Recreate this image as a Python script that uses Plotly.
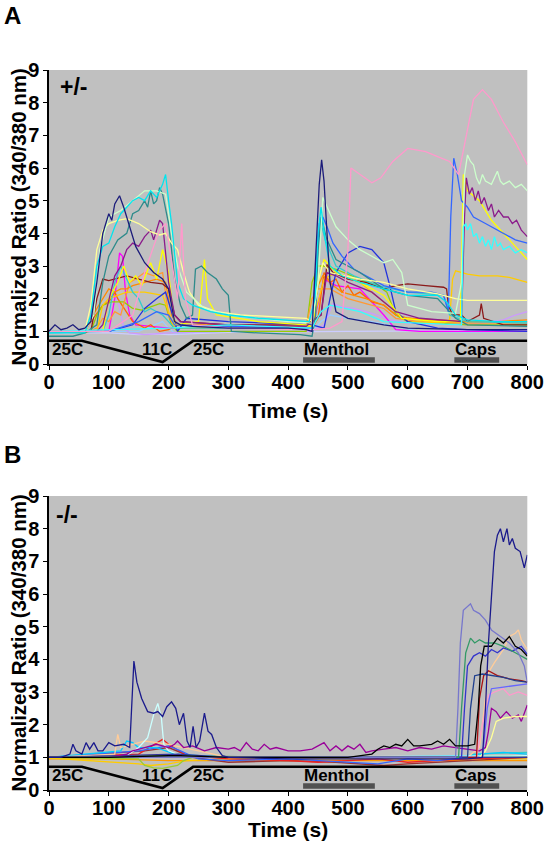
import plotly.graph_objects as go

# ---------------- Panel A (+/-) traces: (time s, normalized ratio) ----------------
a_navy = [(0,1.0),(10,1.2),(20,1.05),(30,1.1),(40,1.2),(50,1.05),(60,1.1),(70,1.3),(80,2.5),(90,4.0),(100,4.6),(105,4.4),(110,4.9),(118,5.15),(125,4.8),(135,4.2),(145,3.6),(160,3.1),(175,2.8),(190,2.6),(200,2.3),(210,1.3),(220,1.2),(240,1.15),(300,1.1),(400,1.1),(430,1.05),(440,1.0),(447,3.5),(452,5.5),(456,6.25),(460,5.6),(465,4.0),(470,2.5),(480,1.6),(500,1.4),(530,1.3),(560,1.2),(600,1.1),(700,1.05),(800,1.05)]
a_cyan = [(0,0.95),(60,0.95),(70,1.5),(80,3.0),(90,3.6),(100,3.7),(110,4.2),(120,4.6),(130,4.8),(140,5.0),(150,5.1),(160,5.0),(170,5.3),(180,5.1),(190,5.5),(195,5.8),(200,5.0),(205,4.3),(210,3.4),(215,2.5),(225,2.0),(240,1.8),(270,1.6),(300,1.5),(350,1.4),(400,1.35),(435,1.3),(445,2.0),(450,4.0),(455,4.8),(462,3.8),(470,3.0),(490,2.7),(520,2.5),(560,2.3),(600,2.1),(650,2.1),(665,1.9),(680,1.5),(700,1.35),(750,1.3),(800,1.3)]
a_cyan2 = [(0,1.0),(100,1.05),(200,1.1),(300,1.2),(440,1.1),(455,1.6),(470,1.8),(520,1.6),(560,1.3),(690,1.2),(693,4.2),(697,4.3),(700,4.1),(705,4.3),(710,3.9),(715,4.0),(720,3.7),(725,3.9),(730,3.6),(735,3.8),(740,3.5),(745,3.9),(750,3.6),(755,3.7),(760,3.5),(770,3.6),(780,3.4),(790,3.5),(800,3.4)]
a_teal = [(0,0.85),(40,0.85),(60,0.95),(80,1.2),(90,2.5),(100,3.3),(115,3.8),(130,4.0),(140,4.6),(150,4.7),(160,5.0),(165,4.8),(170,5.3),(175,4.9),(180,5.0),(185,5.4),(190,5.2),(200,4.3),(205,3.5),(210,2.6),(220,1.8),(230,1.4),(240,1.5),(245,2.9),(255,3.0),(265,2.8),(280,2.6),(290,2.3),(300,2.1),(305,1.0),(350,0.95),(420,0.9),(440,0.85),(446,1.5),(450,3.5),(455,4.5),(465,3.8),(480,3.2),(520,2.8),(560,2.3),(600,2.1),(650,2.0),(680,1.4),(700,1.2),(800,1.15)]
a_paleyellow = [(0,1.0),(60,1.0),(70,1.8),(80,3.5),(90,4.1),(100,4.3),(115,4.4),(130,4.45),(150,4.3),(170,4.05),(185,3.95),(195,4.0),(205,3.7),(215,3.5),(225,2.8),(235,2.2),(250,1.8),(280,1.6),(320,1.5),(380,1.45),(430,1.4),(440,1.3),(450,2.5),(458,3.1),(470,2.8),(520,2.6),(560,2.5),(600,2.3),(650,2.15),(680,2.0),(700,1.95),(750,1.95),(800,1.95)]
a_palegreen = [(0,1.0),(60,1.0),(75,1.5),(85,3.5),(100,4.5),(120,4.7),(140,5.0),(160,5.3),(180,5.3),(195,5.2),(205,4.0),(215,3.0),(230,2.2),(260,1.7),(300,1.5),(400,1.3),(440,1.25),(450,2.5),(458,5.1),(465,4.8),(480,4.2),(500,3.8),(520,3.5),(540,3.3),(560,3.1),(575,3.2),(590,2.8),(600,1.8),(640,1.6),(680,1.55),(690,2.5),(695,5.8),(700,6.4),(705,6.2),(710,6.1),(715,5.7),(720,5.5),(725,5.8),(730,5.6),(740,5.5),(750,5.9),(755,5.6),(760,5.5),(770,5.6),(780,5.4),(790,5.5),(800,5.3)]
a_purple = [(0,1.0),(80,1.0),(90,1.2),(100,2.0),(110,2.7),(120,3.0),(130,3.5),(140,3.7),(150,3.6),(160,3.9),(170,4.1),(175,3.8),(185,4.4),(190,4.3),(195,3.5),(200,2.5),(210,1.5),(220,1.3),(300,1.2),(430,1.15),(455,1.5),(465,2.8),(480,2.7),(500,2.5),(540,2.2),(580,1.6),(620,1.4),(680,1.3),(690,1.3),(695,4.5),(698,5.7),(703,5.2),(708,5.4),(713,5.0),(718,5.3),(723,4.9),(728,5.1),(735,4.7),(740,4.9),(745,4.5),(752,4.7),(760,4.5),(768,4.5),(775,4.3),(782,4.4),(790,4.1),(800,3.9)]
a_pink = [(0,1.0),(100,1.0),(140,1.5),(160,2.8),(175,3.6),(185,4.1),(195,4.3),(205,3.2),(215,2.0),(222,4.3),(228,2.0),(240,1.2),(300,1.1),(440,1.05),(470,1.1),(490,1.3),(500,3.5),(505,6.0),(520,5.8),(540,5.55),(555,5.7),(575,6.2),(600,6.6),(630,6.5),(650,6.35),(670,6.2),(685,5.8),(700,7.2),(710,8.1),(725,8.4),(740,8.1),(760,7.4),(780,6.8),(800,6.1)]
a_royal = [(0,1.0),(100,1.0),(150,1.3),(180,1.6),(200,1.5),(210,1.2),(300,1.15),(440,1.1),(447,3.0),(452,4.3),(458,4.5),(465,4.2),(475,3.7),(490,3.3),(510,2.9),(540,2.6),(560,2.4),(600,2.2),(640,2.2),(660,2.1),(668,1.6),(672,4.5),(677,6.3),(683,5.8),(690,5.0),(700,4.8),(710,4.5),(730,4.3),(760,4.0),(780,3.8),(800,3.7)]
a_blue = [(0,1.0),(100,1.0),(140,1.2),(160,1.7),(180,2.0),(195,2.2),(205,1.6),(215,1.0),(230,1.4),(300,1.3),(440,1.2),(460,1.1),(470,2.0),(480,2.8),(500,3.4),(520,3.6),(540,3.5),(560,3.1),(570,2.4),(580,1.6),(600,1.3),(650,1.1),(700,1.05),(800,1.0)]
a_yellow = [(0,1.0),(90,1.0),(100,2.0),(115,2.5),(125,3.0),(135,2.5),(145,2.7),(155,2.4),(170,3.1),(180,2.6),(190,3.5),(200,2.8),(210,1.2),(250,1.3),(260,3.2),(265,2.0),(280,1.5),(350,1.3),(430,1.2),(440,1.15),(450,2.5),(460,3.2),(480,2.8),(520,2.5),(560,2.1),(590,1.4),(650,1.3),(688,1.3),(690,3.0),(693,5.8),(700,5.3),(720,5.0),(740,4.4),(760,4.0),(780,3.6),(800,3.2)]
a_gold = [(0,1.0),(80,1.0),(90,1.8),(100,2.0),(130,2.2),(160,2.2),(190,2.1),(210,1.1),(300,1.1),(430,1.1),(440,1.2),(460,2.6),(480,2.8),(520,2.5),(560,1.9),(600,1.3),(660,1.25),(670,1.35),(675,2.6),(680,2.85),(700,2.75),(720,2.7),(750,2.7),(770,2.65),(800,2.5)]
a_darkred = [(0,1.0),(70,1.0),(80,2.0),(90,2.6),(100,2.55),(110,2.6),(130,2.7),(150,2.6),(170,2.5),(190,2.45),(200,2.3),(210,1.5),(220,1.3),(300,1.2),(430,1.2),(455,1.5),(465,3.05),(475,2.8),(500,2.6),(530,2.5),(560,2.3),(580,2.4),(600,2.45),(630,2.4),(660,2.35),(665,2.3),(668,1.8),(675,1.5),(690,1.5),(700,1.3),(720,1.5),(723,1.85),(727,1.4),(760,1.2),(800,1.2)]
a_orange = [(0,1.0),(60,1.0),(80,1.7),(90,2.0),(100,2.3),(110,2.2),(120,2.3),(130,2.3),(140,2.4),(160,2.5),(180,2.6),(195,2.5),(205,1.5),(215,1.2),(300,1.2),(430,1.15),(440,1.3),(450,2.4),(458,2.7),(465,2.6),(475,2.4),(490,2.2),(510,2.1),(530,2.0),(560,1.8),(580,1.5),(600,1.4),(650,1.3),(700,1.3),(750,1.3),(800,1.35)]
a_orange2 = [(0,1.0),(60,0.95),(80,1.1),(90,1.4),(100,1.3),(110,1.6),(120,1.5),(135,2.5),(145,2.6),(160,2.8),(175,2.7),(190,2.8),(200,1.5),(210,1.1),(300,1.15),(430,1.15),(440,2.0),(450,2.3),(470,2.3),(500,2.0),(530,1.85),(560,1.7),(580,1.4),(620,1.3),(700,1.25),(800,1.25)]
a_orange3 = [(0,1.0),(60,1.0),(70,1.3),(90,1.8),(100,1.9),(110,2.2),(115,2.0),(130,1.6),(140,1.3),(150,1.2),(160,1.1),(170,1.2),(185,1.0),(200,1.05),(215,1.2),(260,1.15),(400,1.1),(440,1.1),(450,1.4),(460,2.8),(470,2.5),(480,2.6),(490,2.2),(500,2.4),(510,2.1),(520,2.2),(540,1.9),(560,1.8),(580,1.5),(600,1.4),(700,1.3),(800,1.3)]
a_ygreen = [(0,1.0),(70,1.0),(80,1.5),(90,1.8),(105,1.9),(125,1.9),(140,1.7),(155,1.65),(170,1.75),(185,1.85),(195,1.8),(205,1.2),(215,1.0),(300,1.0),(430,1.0),(440,2.5),(450,3.0),(460,3.0),(480,2.9),(520,2.6),(550,2.4),(565,2.2),(580,1.5),(600,1.3),(700,1.2),(800,1.2)]
a_lilac = [(0,1.0),(90,1.0),(100,1.5),(110,2.2),(117,1.8),(125,1.1),(135,0.95),(160,0.9),(200,0.95),(300,1.0),(440,1.0),(460,1.2),(475,1.85),(490,1.75),(510,1.7),(540,1.55),(570,1.35),(600,1.25),(700,1.2),(760,1.35),(780,1.5),(800,1.6)]
a_lightblue = [(0,1.0),(100,1.0),(150,1.0),(190,1.3),(200,1.1),(210,0.95),(300,1.0),(440,1.0),(455,1.3),(470,1.5),(500,1.4),(540,1.3),(580,1.15),(620,1.0),(700,0.98),(800,1.0)]
a_lavender = [(0,0.95),(100,0.95),(150,0.9),(180,0.92),(200,0.9),(300,0.97),(500,1.0),(600,1.0),(700,1.02),(800,1.05)]
a_magenta = [(0,1.0),(100,1.0),(110,2.0),(118,3.4),(123,3.3),(128,2.2),(135,1.5),(145,1.2),(200,1.1),(300,1.1),(440,1.1),(460,2.6),(480,2.4),(520,2.3),(560,1.5),(580,1.05),(620,1.0),(700,1.0),(800,1.0)]
a_turq = [(0,0.95),(90,1.0),(100,1.5),(110,2.5),(120,3.0),(130,2.6),(140,2.2),(150,2.0),(160,1.6),(170,1.7),(190,1.5),(210,1.1),(300,1.1),(440,1.1),(450,3.5),(455,4.3),(462,3.8),(480,3.0),(510,2.7),(550,2.4),(600,2.2),(660,2.1),(670,1.5),(700,1.3),(800,1.25)]

# ---------------- Panel B (-/-) traces ----------------
b_navy = [(0,1.0),(20,1.0),(35,1.1),(40,1.4),(45,1.2),(55,1.1),(62,1.45),(68,1.25),(75,1.45),(82,1.2),(90,1.2),(100,1.45),(110,1.35),(125,1.4),(135,1.3),(140,3.1),(142,3.95),(147,3.3),(155,2.8),(165,2.4),(175,2.35),(182,2.4),(190,2.25),(197,2.55),(205,2.7),(212,2.5),(218,2.0),(225,2.35),(231,1.5),(236,1.3),(241,1.95),(246,1.3),(252,1.5),(260,2.35),(266,1.8),(272,1.7),(280,1.3),(290,1.05),(300,1.0),(400,0.95),(500,0.95),(600,0.95),(700,0.95),(725,1.0),(730,2.5),(735,4.5),(740,6.0),(745,7.3),(750,7.8),(755,8.0),(760,7.6),(766,8.0),(770,7.5),(775,7.7),(780,7.4),(788,7.3),(795,6.8),(800,7.2)]
b_slate = [(0,1.0),(680,1.0),(684,2.5),(688,4.5),(693,5.5),(700,5.6),(705,5.7),(710,5.5),(720,5.4),(730,5.2),(740,4.9),(755,4.7),(770,4.5),(785,4.2),(795,3.8),(800,3.3)]
b_green = [(0,1.0),(685,1.0),(690,2.5),(697,4.2),(705,4.65),(712,4.5),(720,4.6),(730,4.5),(745,4.5),(760,4.4),(780,4.2),(800,4.0)]
b_black = [(0,1.0),(100,1.0),(200,1.05),(220,1.05),(300,1.0),(400,1.0),(500,1.0),(540,1.1),(550,1.25),(560,1.35),(570,1.3),(580,1.4),(590,1.35),(600,1.55),(610,1.35),(620,1.35),(640,1.4),(650,1.5),(660,1.4),(670,1.55),(680,1.35),(700,1.35),(712,1.4),(718,2.5),(722,3.8),(728,4.4),(740,4.4),(750,4.65),(760,4.5),(770,4.7),(780,4.4),(790,4.3),(800,4.1)]
b_blue = [(0,1.0),(690,1.0),(695,2.5),(700,3.8),(710,4.1),(720,4.2),(730,4.1),(740,4.3),(750,4.2),(760,4.35),(775,4.25),(790,4.4),(800,4.15)]
b_darkblue = [(0,1.0),(700,1.0),(705,2.5),(712,3.5),(725,3.55),(740,3.5),(760,3.45),(780,3.35),(800,3.3)]
b_darkred = [(0,1.0),(715,1.0),(720,2.8),(727,3.5),(735,3.65),(750,3.5),(770,3.4),(790,3.35),(800,3.3)]
b_peach = [(0,1.0),(110,1.1),(115,1.7),(120,1.3),(140,1.4),(160,1.5),(200,1.4),(300,1.0),(700,1.0),(720,1.3),(728,2.5),(735,3.6),(745,3.9),(760,4.3),(770,4.7),(780,4.8),(785,4.9),(790,4.6),(800,4.3)]
b_pink = [(0,1.0),(715,1.0),(725,2.0),(735,2.9),(745,3.0),(760,3.1),(770,2.9),(785,3.0),(800,2.9)]
b_medblue = [(0,1.0),(725,1.0),(733,2.5),(740,3.1),(760,3.15),(780,3.2),(800,3.25)]
b_purple = [(0,1.0),(100,1.0),(130,1.1),(140,1.2),(160,1.3),(180,1.4),(200,1.3),(210,1.4),(215,1.5),(225,1.3),(240,1.35),(260,1.2),(280,1.3),(300,1.25),(310,1.3),(320,1.2),(330,1.45),(340,1.25),(350,1.2),(360,1.4),(370,1.25),(380,1.3),(400,1.2),(420,1.2),(440,1.25),(460,1.45),(470,1.2),(480,1.35),(490,1.2),(500,1.35),(510,1.25),(520,1.4),(530,1.15),(540,1.2),(560,1.25),(580,1.3),(600,1.2),(620,1.3),(640,1.25),(660,1.35),(680,1.3),(700,1.25),(720,1.2),(730,1.3),(735,1.8),(740,2.5),(748,2.4),(755,2.2),(765,2.4),(775,2.2),(785,2.3),(790,2.1),(800,2.6)]
b_lightyellow = [(0,1.0),(720,1.0),(730,1.2),(740,1.6),(748,2.1),(760,2.2),(780,2.25),(800,2.25)]
b_palecyan = [(0,1.0),(130,1.05),(150,1.3),(165,1.6),(175,2.3),(182,2.65),(188,2.2),(192,1.4),(200,1.2),(220,1.05),(300,1.0),(800,1.05)]
b_ygreen = [(0,1.0),(150,0.95),(160,0.75),(175,0.68),(190,0.66),(205,0.7),(215,0.75),(225,0.9),(240,1.0),(800,1.0)]
b_cyan = [(0,1.0),(120,1.2),(130,1.5),(140,1.45),(150,1.3),(180,1.3),(210,1.1),(300,1.0),(500,1.0),(700,1.05),(720,1.1),(760,1.15),(800,1.1)]
b_orange = [(0,0.95),(100,0.95),(200,0.9),(300,0.9),(500,0.9),(700,0.9),(800,0.9)]
b_yellow = [(0,0.98),(150,0.8),(170,0.75),(200,0.8),(230,0.9),(300,0.95),(800,0.95)]
b_red = [(0,1.0),(150,1.1),(190,1.55),(200,1.4),(230,1.05),(300,0.95),(400,0.9),(450,0.85),(500,0.9),(550,0.95),(600,0.85),(650,0.9),(700,0.95),(800,1.0)]
b_maroon = [(0,1.0),(160,1.2),(200,1.3),(240,1.0),(300,0.85),(400,0.9),(480,0.85),(520,0.8),(560,0.75),(600,0.8),(700,0.9),(800,1.0)]
b_green2 = [(0,1.0),(200,1.05),(400,1.0),(600,1.0),(800,1.05)]
b_blue2 = [(0,1.0),(150,1.2),(200,1.35),(220,1.2),(250,0.95),(300,0.9),(400,0.95),(500,0.85),(550,0.8),(600,0.95),(650,0.9),(700,1.0),(800,1.0)]
b_indigo = [(0,1.0),(200,1.1),(215,1.1),(300,1.0),(800,1.0)]
b_teal = [(0,1.0),(700,1.0),(710,1.1),(800,1.15)]

# stimulus protocol (temperature ramp, drug bars)
protocol_t = [0, 55, 190, 241, 800]
protocol_v = [0.71, 0.71, 0.06, 0.71, 0.71]
menthol_span = [425, 545]
caps_span = [678, 753]
bar_level = 0.12
x_ticks = [0, 100, 200, 300, 400, 500, 600, 700, 800]
y_ticks = [0, 1, 2, 3, 4, 5, 6, 7, 8, 9]

A_SERIES = [
    (a_lavender, "#ccccff"), (a_lightblue, "#99ccff"), (a_lilac, "#cc99ff"), (a_magenta, "#ff00ff"),
    (a_orange3, "#ff6600"), (a_ygreen, "#99cc00"), (a_orange2, "#ff9933"), (a_orange, "#ff8c00"),
    (a_gold, "#ffcc00"), (a_darkred, "#8b1a1a"), (a_blue, "#2233dd"), (a_turq, "#33cccc"),
    (a_yellow, "#ffff00"), (a_purple, "#8b1c8b"), (a_royal, "#3366ff"), (a_teal, "#2e8b8b"),
    (a_paleyellow, "#ffff99"), (a_palegreen, "#ccffcc"), (a_cyan2, "#33ffff"), (a_cyan, "#00e5ee"),
    (a_pink, "#ff99cc"), (a_navy, "#1c1c7a"),
]
B_SERIES = [
    (b_orange, "#ff9900"), (b_yellow, "#ffcc00"), (b_ygreen, "#99cc33"), (b_maroon, "#993333"),
    (b_red, "#ee2222"), (b_green2, "#33aa33"), (b_blue2, "#3366ff"), (b_teal, "#33cccc"),
    (b_cyan, "#00ccff"), (b_peach, "#ffcc99"), (b_palecyan, "#ccffff"), (b_indigo, "#333399"),
    (b_purple, "#990099"), (b_lightyellow, "#ffff99"), (b_pink, "#ff99cc"), (b_medblue, "#6666ff"),
    (b_darkred, "#aa1111"), (b_darkblue, "#1f3f8f"), (b_blue, "#3333cc"), (b_green, "#339966"),
    (b_slate, "#7777cc"), (b_black, "#000000"), (b_navy, "#1a1a8c"),
]

fig = go.Figure()
FONT = "Liberation Sans, Arial, sans-serif"

def add_panel(series, xa, ya):
    for pts, col in series:
        fig.add_trace(go.Scatter(x=[p[0] for p in pts], y=[p[1] for p in pts], mode="lines",
                                 line=dict(color=col, width=1.3), xaxis=xa, yaxis=ya,
                                 showlegend=False, hoverinfo="skip"))
    fig.add_trace(go.Scatter(x=protocol_t, y=protocol_v, mode="lines", line=dict(color="black", width=2.6),
                             xaxis=xa, yaxis=ya, showlegend=False, hoverinfo="skip"))
    for span in (menthol_span, caps_span):
        fig.add_trace(go.Scatter(x=span, y=[bar_level, bar_level], mode="lines",
                                 line=dict(color="#505050", width=5.5), xaxis=xa, yaxis=ya,
                                 showlegend=False, hoverinfo="skip"))

add_panel(A_SERIES, "x", "y")
add_panel(B_SERIES, "x2", "y2")

X0, X1 = 49 / 548, 527.3 / 548
YA = [1 - 364 / 853, 1 - 70 / 853]
YB = [1 - 790 / 853, 1 - 496 / 853]

axis_common = dict(showline=True, linecolor="black", linewidth=1.5, ticks="outside", ticklen=4,
                   tickwidth=1.3, tickcolor="black", showgrid=False, zeroline=False, automargin=False,
                   tickfont=dict(family=FONT, size=20, color="black", weight="bold"))

fig.update_layout(
    width=548, height=853, margin=dict(l=0, r=0, t=0, b=0, pad=0, autoexpand=False),
    paper_bgcolor="white", plot_bgcolor="#c0c0c0",
    xaxis=dict(domain=[X0, X1], range=[0, 800], tickvals=x_ticks, anchor="y", ticklabelstandoff=-5, **axis_common),
    yaxis=dict(domain=YA, range=[0, 9], tickvals=y_ticks, anchor="x", **axis_common),
    xaxis2=dict(domain=[X0, X1], range=[0, 800], tickvals=x_ticks, anchor="y2", ticklabelstandoff=-5, **axis_common),
    yaxis2=dict(domain=YB, range=[0, 9], tickvals=y_ticks, anchor="x2", **axis_common),
)

ann = []
def txt(text, x, y, size, xref="paper", yref="paper", xanchor="center", angle=0):
    ann.append(dict(text=text, x=x, y=y, xref=xref, yref=yref, xanchor=xanchor, yanchor="middle",
                    showarrow=False, textangle=angle,
                    font=dict(family=FONT, size=size, color="black", weight="bold")))

# panel letters
txt("A", 2 / 548, 1 - 16 / 853, 24, xanchor="left")
txt("B", 2 / 548, 1 - 454 / 853, 24, xanchor="left")
# genotype labels
txt("+/-", 73 / 548, 1 - 87 / 853, 23)
txt("-/-", 67 / 548, 1 - 515 / 853, 23)
# axis titles
for ymid, xt_y in ((217, 410), (643, 829)):
    txt("Normalized Ratio (340/380 nm)", 17.5 / 548, 1 - ymid / 853, 20.5, angle=-90)
    txt("Time (s)", 288 / 548, 1 - xt_y / 853, 21)
# protocol labels
for xa, ya in (("x", "y"), ("x2", "y2")):
    for label, xv, anchor in (("25C", 1, "left"), ("11C", 181, "center"), ("25C", 266, "center"),
                              ("Menthol", 481, "center"), ("Caps", 714, "center")):
        txt(label, xv, 0.43, 17, xref=xa, yref=ya, xanchor=anchor)

fig.update_layout(annotations=ann)
fig.write_html("out.html", config={"displayModeBar": False},
               post_script="document.body.style.margin='0px';document.body.style.overflow='hidden';")
